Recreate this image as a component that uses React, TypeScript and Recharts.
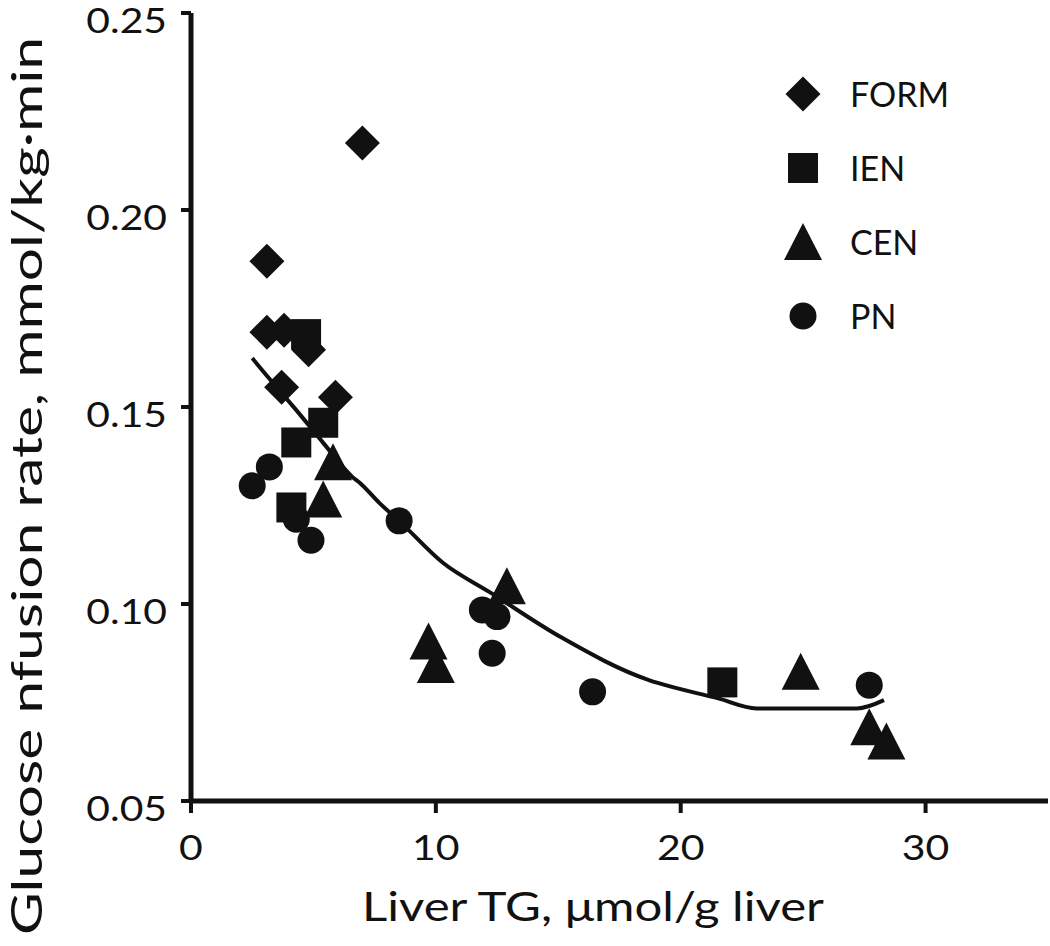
import React from 'react';
import { ComposedChart, Scatter, Line, XAxis, YAxis, Legend, Label } from 'recharts';

// values
const formX = [7.0, 3.1, 3.1, 3.8, 4.8, 3.7, 5.9];
const formY = [0.217, 0.187, 0.169, 0.1695, 0.1645, 0.155, 0.1525];

const ienX = [4.7, 4.3, 5.4, 4.1, 21.7];
const ienY = [0.1685, 0.141, 0.146, 0.1245, 0.0801];

const cenX = [5.8, 5.4, 12.9, 9.7, 10.0, 24.9, 27.7, 28.4];
const cenY = [0.136, 0.1265, 0.1045, 0.0905, 0.0845, 0.0828, 0.0687, 0.0651];

const pnX = [2.5, 3.2, 4.3, 4.9, 8.5, 11.9, 12.5, 12.3, 16.4, 27.7];
const pnY = [0.13, 0.1348, 0.1215, 0.1162, 0.1211, 0.0985, 0.0968, 0.0875, 0.0777, 0.0794];

// fitted curve
const fitX = [2.5, 2.9, 3.6, 4.3, 5.4, 6.6, 6.9, 7.7, 8.5, 10.3, 12.2, 15.1, 18.7, 19.1, 21.5, 23.1, 25.0, 27.2, 28.3];
const fitY = [0.1624, 0.1594, 0.1543, 0.1492, 0.1409, 0.1322, 0.1307, 0.1256, 0.1211, 0.1104, 0.103, 0.0916, 0.0807, 0.0799, 0.0761, 0.0735, 0.0735, 0.0735, 0.0756];

const groupNames = ['FORM', 'IEN', 'CEN', 'PN'];
const xTicks = [0, 10, 20, 30];
const yTicks = [0.05, 0.1, 0.15, 0.2, 0.25];

const INK = '#111';
const FONT = 'Lato, "Open Sans", sans-serif';
const TICK_FS = 35;

const pairs = (xs: number[], ys: number[]) => xs.map((x, i) => ({ x, y: ys[i] }));

const formData = pairs(formX, formY);
const ienData = pairs(ienX, ienY);
const cenData = pairs(cenX, cenY);
const pnData = pairs(pnX, pnY);
const fitData = pairs(fitX, fitY);

type Kind = 'diamond' | 'square' | 'triangle' | 'circle';
const kinds: Kind[] = ['diamond', 'square', 'triangle', 'circle'];

function Marker({ kind, cx, cy }: { kind: Kind; cx: number; cy: number }) {
  if (cx == null || cy == null) return null;
  switch (kind) {
    case 'diamond':
      return <path d={`M${cx},${cy - 17.5}L${cx + 17.5},${cy}L${cx},${cy + 17.5}L${cx - 17.5},${cy}Z`} fill={INK} />;
    case 'square':
      return <rect x={cx - 15} y={cy - 15} width={30} height={30} fill={INK} />;
    case 'triangle':
      return <path d={`M${cx},${cy - 19}L${cx + 19},${cy + 18}L${cx - 19},${cy + 18}Z`} fill={INK} />;
    default:
      return <circle cx={cx} cy={cy} r={13.5} fill={INK} />;
  }
}

const shapeFor = (kind: Kind) => (props: any) => <Marker kind={kind} cx={props.cx} cy={props.cy} />;

// the figure's lettering is slightly stretched sideways
const stretchedLength = (s: string) => {
  let w = 0;
  for (const ch of s) w += ch === '.' ? 0.23 : 0.58;
  return w * TICK_FS * 1.17;
};

const YTick = (props: any) => {
  const label = Number(props.payload.value).toFixed(2);
  return (
    <text
      x={props.x}
      y={props.y + 20}
      textAnchor="end"
      fill={INK}
      fontSize={TICK_FS}
      fontFamily={FONT}
      textLength={stretchedLength(label)}
      lengthAdjust="spacingAndGlyphs"
    >
      {label}
    </text>
  );
};

const XTick = (props: any) => {
  const label = String(props.payload.value);
  return (
    <text
      x={props.x}
      y={props.y + 27}
      textAnchor="middle"
      fill={INK}
      fontSize={TICK_FS}
      fontFamily={FONT}
      textLength={stretchedLength(label)}
      lengthAdjust="spacingAndGlyphs"
    >
      {label}
    </text>
  );
};

const renderLegend = () => (
  <div style={{ fontFamily: FONT }}>
    {groupNames.map((name, i) => (
      <div key={name} style={{ display: 'flex', alignItems: 'center', height: 74 }}>
        <svg width={50} height={50} style={{ marginRight: 22 }}>
          <Marker kind={kinds[i]} cx={25} cy={25} />
        </svg>
        <span style={{ fontSize: 34, color: INK, lineHeight: '40px' }}>{name}</span>
      </div>
    ))}
  </div>
);

const renderXLabel = (props: any) => {
  const vb = props.viewBox;
  return (
    <text
      x={vb.x + 402}
      y={vb.y + 120}
      textAnchor="middle"
      fill={INK}
      fontSize={40}
      fontFamily={FONT}
      textLength={462}
      lengthAdjust="spacingAndGlyphs"
    >
      Liver TG, μmol/g liver
    </text>
  );
};

const renderYLabel = () => {
  const x = 42;
  const y = 486;
  return (
    <text
      x={x}
      y={y}
      transform={`rotate(-90, ${x}, ${y})`}
      textAnchor="middle"
      fill={INK}
      fontSize={43}
      fontFamily={FONT}
      textLength={898}
      lengthAdjust="spacingAndGlyphs"
    >
      Glucose nfusion rate, mmol/kg·min
    </text>
  );
};

export default function App() {
  return (
    <div style={{ position: 'absolute', left: 0, top: 0, background: '#fff' }}>
      <ComposedChart width={1050} height={946} margin={{ top: 13, right: 2, bottom: 0, left: 0 }}>
        <XAxis
          dataKey="x"
          type="number"
          domain={[0, 35]}
          ticks={xTicks}
          height={145}
          axisLine={{ stroke: INK, strokeWidth: 5 }}
          tickLine={{ stroke: INK, strokeWidth: 4 }}
          tickSize={12}
          tickMargin={20}
          tick={<XTick />}
          allowDataOverflow
        >
          <Label content={renderXLabel} />
        </XAxis>
        <YAxis
          dataKey="y"
          type="number"
          domain={[0.05, 0.25]}
          ticks={yTicks}
          width={191}
          axisLine={{ stroke: INK, strokeWidth: 5 }}
          tickLine={{ stroke: INK, strokeWidth: 4 }}
          tickSize={10}
          tickMargin={14}
          tick={<YTick />}
          allowDataOverflow
        >
          <Label content={renderYLabel} />
        </YAxis>
        <Legend
          layout="horizontal"
          verticalAlign="middle"
          align="center"
          content={renderLegend}
          wrapperStyle={{ left: 778, top: 57, width: 220 }}
        />
        <Line
          data={fitData}
          dataKey="y"
          type="monotone"
          stroke={INK}
          strokeWidth={4}
          dot={false}
          activeDot={false}
          legendType="none"
          isAnimationActive={false}
        />
        <Scatter name="FORM" data={formData} dataKey="y" shape={shapeFor('diamond')} isAnimationActive={false} />
        <Scatter name="IEN" data={ienData} dataKey="y" shape={shapeFor('square')} isAnimationActive={false} />
        <Scatter name="CEN" data={cenData} dataKey="y" shape={shapeFor('triangle')} isAnimationActive={false} />
        <Scatter name="PN" data={pnData} dataKey="y" shape={shapeFor('circle')} isAnimationActive={false} />
      </ComposedChart>
    </div>
  );
}
